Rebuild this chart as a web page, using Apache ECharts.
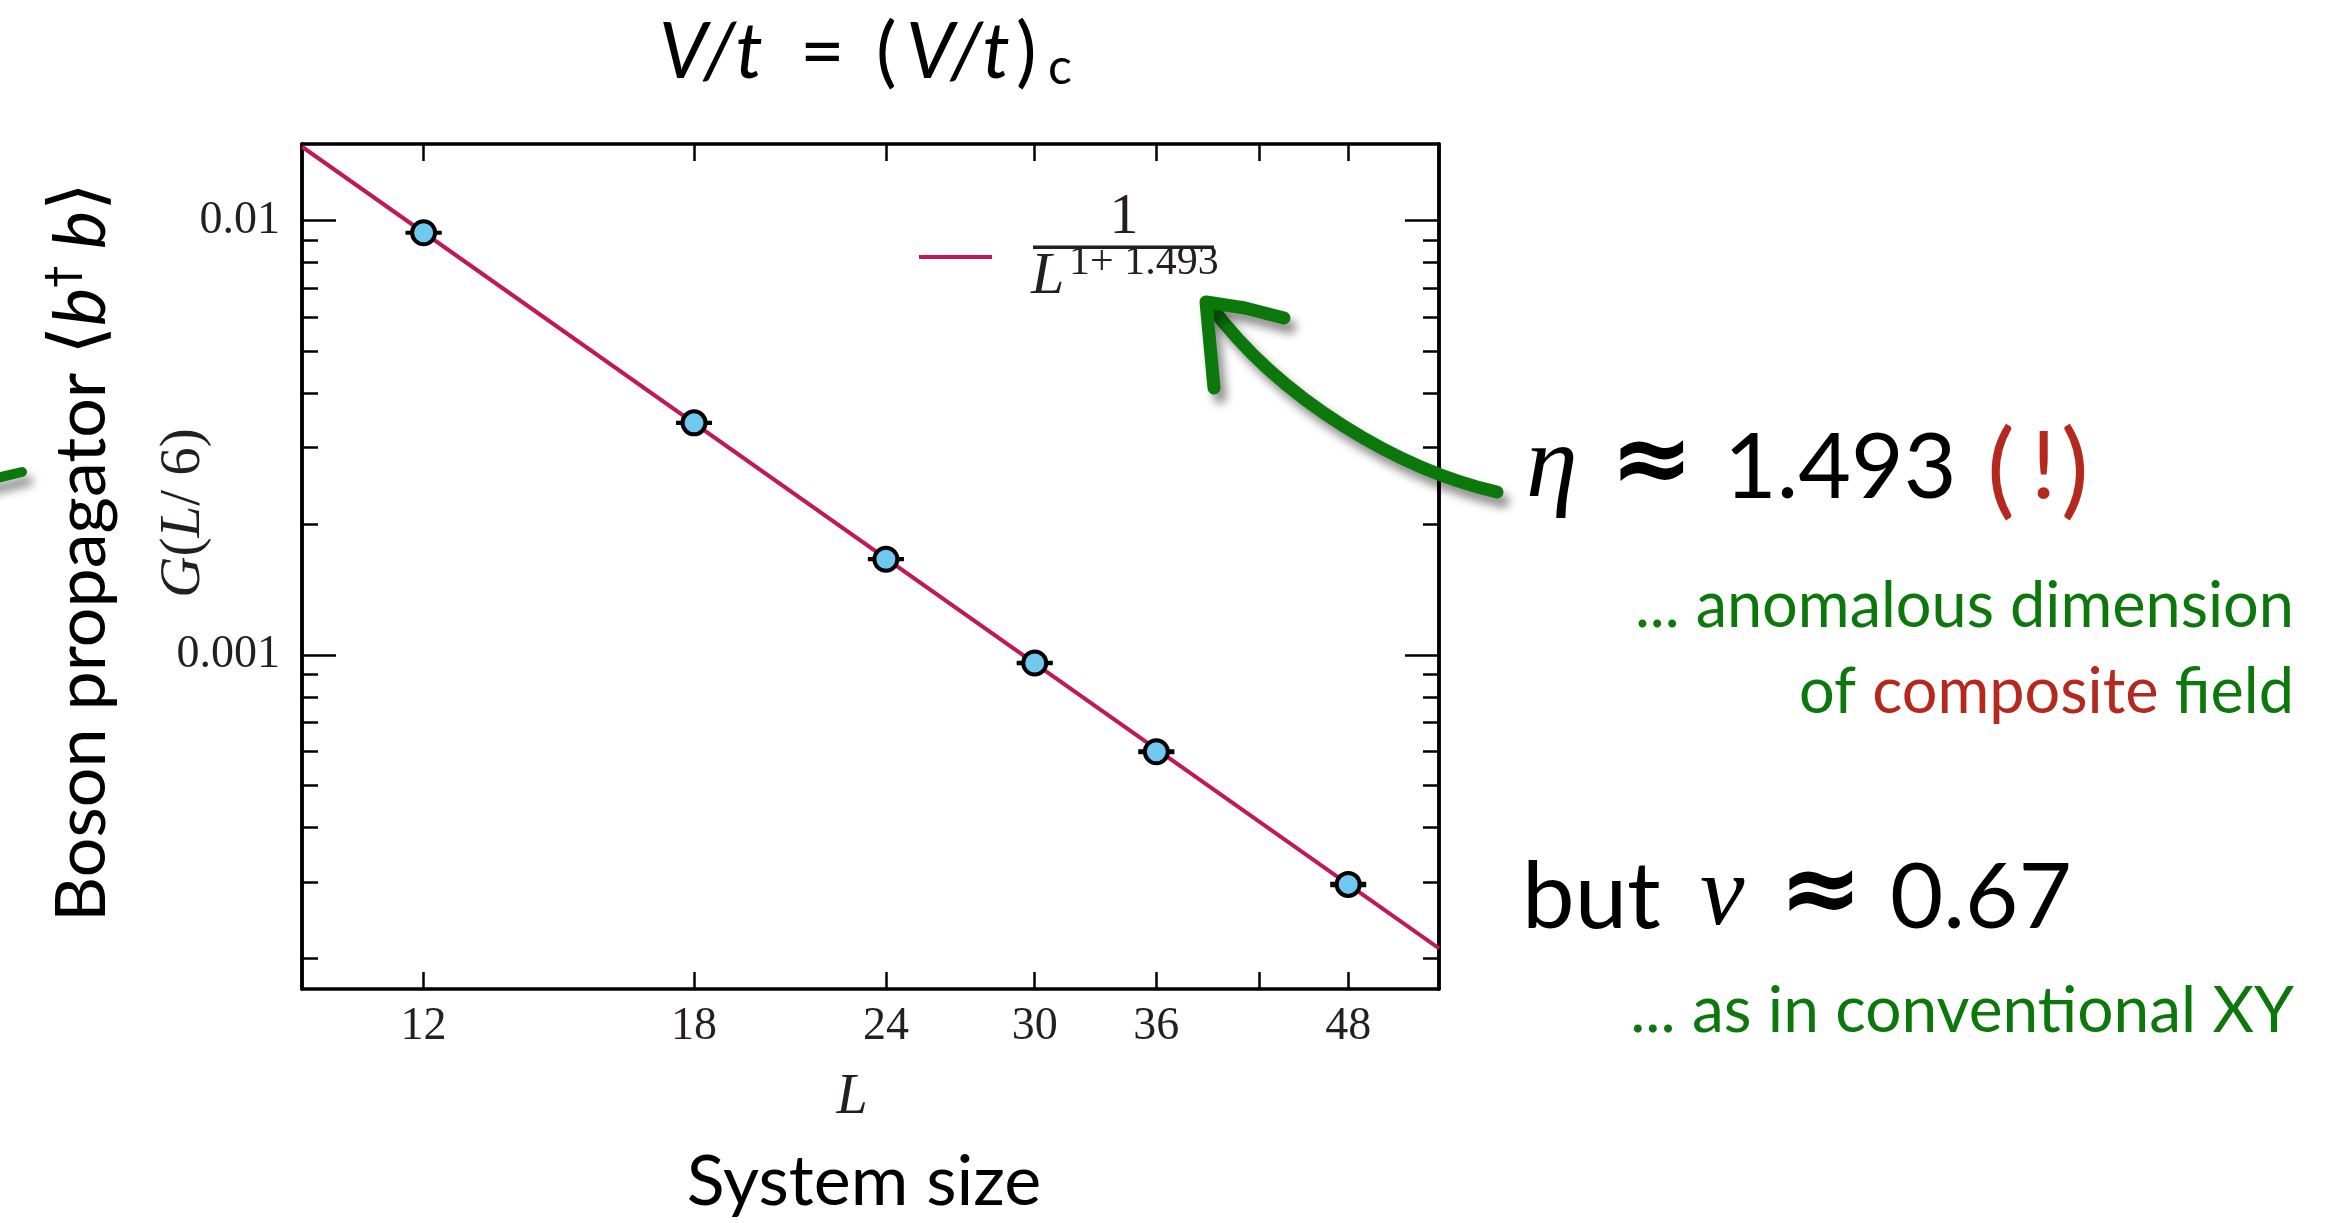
<!DOCTYPE html>
<html>
<head>
<meta charset="utf-8">
<script src="https://cdn.jsdelivr.net/npm/echarts@6/dist/echarts.min.js"></script>
<style>
  html, body { margin: 0; padding: 0; background: #fff; }
  #chart { width: 2331px; height: 1223px; }
</style>
</head>
<body>
<div id="chart"></div>
<script>
// Boson propagator G(L/6) at the critical coupling, for each system size L
const sizes = [12, 18, 24, 30, 36, 48];
const propagator = [0.00937, 0.00342, 0.00166, 0.000957, 0.000598, 0.000296];
const propagatorErr = [0.00003, 0.000012, 0.000006, 0.000004, 0.000003, 0.000002];

// Power-law fit G = A / L^(1 + eta), drawn across the plotted L range
const fitEta = 1.493;
const fitAmplitude = 4.6;
const fitRange = [10, 55];

// Axis ranges and tick positions
const xRange = [10, 55];
const yRange = [0.00017, 0.015];
const xTicks = [12, 18, 24, 30, 36, 42, 48];
const xTickLabels = [12, 18, 24, 30, 36, 48];
const yMajorTicks = [0.001, 0.01];
const yMinorTicks = [0.0002, 0.0003, 0.0004, 0.0005, 0.0006, 0.0007, 0.0008, 0.0009,
                     0.002, 0.003, 0.004, 0.005, 0.006, 0.007, 0.008, 0.009];

const INK = '#000';
const TICK_INK = '#231f20';
const GREEN = '#0c780c';
const RED = '#b5281e';
const FIT = '#c0185a';
const MARKER = '#6ec8f0';
const SERIF = "'Liberation Serif', 'DejaVu Serif', serif";
const SANS = "Lato, 'DejaVu Sans', sans-serif";
const DEJAVU = "'DejaVu Sans', sans-serif";

const chart = echarts.init(document.getElementById('chart'), null, { renderer: 'canvas' });

const fitLine = fitRange.map(L => [L, fitAmplitude / Math.pow(L, 1 + fitEta)]);
const points = sizes.map((L, i) => [L, propagator[i]]);
const errors = sizes.map((L, i) => [L, propagator[i], propagatorErr[i]]);

const frameLine = { show: true, onZero: false, lineStyle: { color: INK, width: 3.5 } };

function xAxisDef(position, withLabels) {
  return {
    type: 'log', logBase: 10, min: xRange[0], max: xRange[1], position,
    axisLine: frameLine,
    axisTick: { show: true, inside: true, length: 17, customValues: xTicks,
                lineStyle: { color: INK, width: 2.5 } },
    minorTick: { show: false },
    splitLine: { show: false },
    axisLabel: withLabels ? {
      show: true, customValues: xTickLabels, margin: 15,
      fontFamily: SERIF, fontSize: 46, color: TICK_INK
    } : { show: false }
  };
}

function yAxisDef(position, ticks, len, withLabels) {
  return {
    type: 'log', logBase: 10, min: yRange[0], max: yRange[1], position,
    axisLine: frameLine,
    axisTick: { show: true, inside: true, length: len, customValues: ticks,
                lineStyle: { color: INK, width: 2.5 } },
    minorTick: { show: false },
    splitLine: { show: false },
    axisLabel: withLabels ? {
      show: true, customValues: ticks, margin: 22,
      fontFamily: SERIF, fontSize: 46, color: TICK_INK,
      formatter: v => String(+Number(v).toPrecision(4))
    } : { show: false }
  };
}

// Text placed by its baseline
function text(x, baseline, str, fs, opts = {}) {
  const k = opts.family === SERIF ? 0.305 : 0.32;
  return Object.assign({
    type: 'text', x, y: baseline - k * fs, z: 100,
    style: Object.assign({
      text: str, fontFamily: opts.family || SANS, fontSize: fs,
      fontStyle: opts.italic ? 'italic' : 'normal',
      fontWeight: opts.weight || 'normal',
      fill: opts.color || INK, align: opts.align || 'left', verticalAlign: 'middle'
    }, opts.style || {})
  }, opts.props || {});
}

const arrowStyle = {
  stroke: GREEN, fill: null, lineWidth: 13, lineCap: 'round', lineJoin: 'round',
  shadowBlur: 10, shadowColor: 'rgba(0,0,0,0.45)', shadowOffsetX: 6, shadowOffsetY: 9
};

const graphic = [
  // Title
  text(659, 78, 'V/t', 77, { italic: true }),
  text(800, 78, '=', 77),
  text(876, 78, '(', 77),
  text(906, 78, 'V/t', 77, { italic: true }),
  text(1016, 78, ')', 77),
  text(1048, 84, 'c', 50),

  // Outer axis captions
  {
    type: 'text', x: 82, y: 552, rotation: Math.PI / 2, z: 100,
    style: {
      text: 'Boson propagator {a|⟨}{i|b}{s|†}{i| b}{a|⟩}',
      fontFamily: SANS, fontSize: 70, fill: INK, align: 'center', verticalAlign: 'middle',
      rich: {
        a: { fontFamily: DEJAVU, fontSize: 74, fill: INK },
        i: { fontFamily: SANS, fontStyle: 'italic', fontSize: 72, fill: INK },
        s: { fontFamily: DEJAVU, fontSize: 44, fill: INK, verticalAlign: 'top' }
      }
    }
  },
  text(864, 1205, 'System size', 70, { align: 'center' }),

  // Inner axis captions
  {
    type: 'text', x: 184, y: 513, rotation: Math.PI / 2, z: 100,
    style: {
      text: '{i|G}({i|L}/ 6)',
      fontFamily: SERIF, fontSize: 57, fill: TICK_INK, align: 'center', verticalAlign: 'middle',
      rich: {
        i: { fontFamily: SERIF, fontStyle: 'italic', fontSize: 57, fill: TICK_INK }
      }
    }
  },
  text(852, 1115, 'L', 56, { family: SERIF, italic: true, align: 'center', color: TICK_INK }),

  // Legend for the fit
  { type: 'line', z: 100, shape: { x1: 919, y1: 257, x2: 992, y2: 257 },
    style: { stroke: FIT, lineWidth: 4 } },
  text(1124, 235, '1', 58, { family: SERIF, align: 'center', color: TICK_INK }),
  { type: 'rect', z: 100, shape: { x: 1033, y: 245.5, width: 181, height: 3.5 },
    style: { fill: TICK_INK } },
  text(1031, 296, 'L', 60, { family: SERIF, italic: true, color: TICK_INK }),
  text(1069, 276, '1+ 1.493', 42, { family: SERIF, color: TICK_INK }),

  // Hand-drawn arrows
  { type: 'bezierCurve', z: 90,
    shape: { x1: 1497, y1: 492, cpx1: 1400, cpy1: 470, cpx2: 1280, cpy2: 400, x2: 1210, y2: 305 },
    style: arrowStyle },
  { type: 'polyline', z: 90,
    shape: { points: [[1214, 388], [1210, 345], [1206, 302], [1245, 308], [1284, 318]] },
    style: arrowStyle },
  { type: 'line', z: 90,
    shape: { x1: -20, y1: 482, x2: 22, y2: 472 },
    style: Object.assign({}, arrowStyle, { lineWidth: 10 }) },

  // Exponent annotations
  text(1526, 500, 'η', 104, { family: SERIF, italic: true }),
  text(1610, 498, '≈', 100, { family: DEJAVU, weight: 'bold' }),
  text(1724, 498, '1.493', 91),
  text(1987, 505, '(', 104, { color: RED }),
  text(2031, 498, '!', 94, { color: RED }),
  text(2061, 505, ')', 104, { color: RED }),
  text(2294, 627, '... anomalous dimension', 63, { align: 'right', color: GREEN }),
  {
    type: 'text', x: 2294, y: 713 - 0.32 * 63, z: 100,
    style: {
      text: '{g|of }{r|composite}{g| field}', fontFamily: SANS, fontSize: 63,
      align: 'right', verticalAlign: 'middle', fill: GREEN,
      rich: {
        g: { fontFamily: SANS, fontSize: 63, fill: GREEN },
        r: { fontFamily: SANS, fontSize: 63, fill: RED }
      }
    }
  },
  text(1522, 928, 'but', 94),
  text(1700, 928, 'ν', 100, { family: SERIF, italic: true }),
  text(1779, 928, '≈', 100, { family: DEJAVU, weight: 'bold' }),
  text(1890, 928, '0.67', 92),
  text(2294, 1032, '... as in conventional XY', 64, { align: 'right', color: GREEN })
];

chart.setOption({
  backgroundColor: '#fff',
  animation: false,
  grid: { left: 302, top: 144, width: 1137, height: 845, containLabel: false },
  xAxis: [xAxisDef('bottom', true), xAxisDef('top', false)],
  yAxis: [
    yAxisDef('left', yMajorTicks, 34, true),
    yAxisDef('left', yMinorTicks, 16, false),
    yAxisDef('right', yMajorTicks, 34, false),
    yAxisDef('right', yMinorTicks, 16, false)
  ],
  series: [
    {
      name: 'fit', type: 'line', data: fitLine, xAxisIndex: 0, yAxisIndex: 0,
      symbol: 'none', lineStyle: { color: FIT, width: 4 }, z: 2, silent: true
    },
    {
      name: 'error', type: 'custom', data: errors, xAxisIndex: 0, yAxisIndex: 0, z: 3,
      encode: { x: 0, y: 1 },
      renderItem: (params, api) => {
        const L = api.value(0), g = api.value(1), e = api.value(2);
        const lo = api.coord([L, g - e]);
        const hi = api.coord([L, g + e]);
        const half = 18;
        const st = { stroke: INK, lineWidth: 3 };
        return {
          type: 'group',
          children: [
            { type: 'line', shape: { x1: lo[0], y1: lo[1], x2: hi[0], y2: hi[1] }, style: st },
            { type: 'line', shape: { x1: lo[0] - half, y1: lo[1], x2: lo[0] + half, y2: lo[1] }, style: st },
            { type: 'line', shape: { x1: hi[0] - half, y1: hi[1], x2: hi[0] + half, y2: hi[1] }, style: st }
          ]
        };
      }
    },
    {
      name: 'G(L/6)', type: 'scatter', data: points, xAxisIndex: 0, yAxisIndex: 0, z: 4,
      symbol: 'circle', symbolSize: 23,
      itemStyle: { color: MARKER, borderColor: INK, borderWidth: 4, opacity: 1 }
    }
  ],
  graphic
});
</script>
</body>
</html>
